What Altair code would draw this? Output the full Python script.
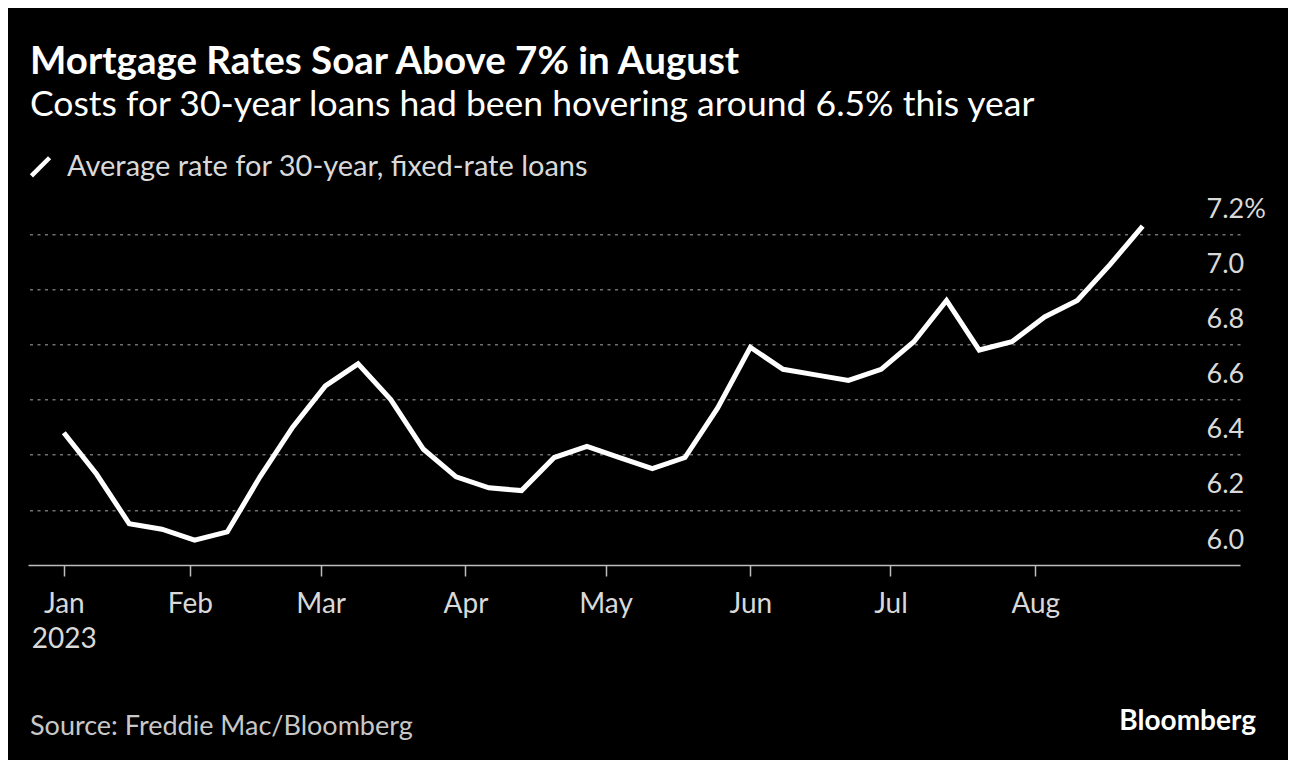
import altair as alt
import pandas as pd

# ---- data (Freddie Mac weekly average 30-year fixed rate, 2023) ----
dates = [
    "2023-01-05", "2023-01-12", "2023-01-19", "2023-01-26",
    "2023-02-02", "2023-02-09", "2023-02-16", "2023-02-23",
    "2023-03-02", "2023-03-09", "2023-03-16", "2023-03-23", "2023-03-30",
    "2023-04-06", "2023-04-13", "2023-04-20", "2023-04-27",
    "2023-05-04", "2023-05-11", "2023-05-18", "2023-05-25",
    "2023-06-01", "2023-06-08", "2023-06-15", "2023-06-22", "2023-06-29",
    "2023-07-06", "2023-07-13", "2023-07-20", "2023-07-27",
    "2023-08-03", "2023-08-10", "2023-08-17", "2023-08-24",
]
rates = [
    6.48, 6.33, 6.15, 6.13,
    6.09, 6.12, 6.32, 6.50,
    6.65, 6.73, 6.60, 6.42, 6.32,
    6.28, 6.27, 6.39, 6.43,
    6.39, 6.35, 6.39, 6.57,
    6.79, 6.71, 6.69, 6.67, 6.71,
    6.81, 6.96, 6.78, 6.81,
    6.90, 6.96, 7.09, 7.23,
]
series_name = "Average rate for 30-year, fixed-rate loans"
x_tick_dates = ["2023-01-05", "2023-02-01", "2023-03-01", "2023-04-01",
                "2023-05-01", "2023-06-01", "2023-07-01", "2023-08-01"]
y_ticks = [6.0, 6.2, 6.4, 6.6, 6.8, 7.0, 7.2]
x_domain = [("2022-12-28", 8), ("2023-09-13", 20)]

title_text = "Mortgage Rates Soar Above 7% in August"
subtitle_text = "Costs for 30-year loans had been hovering around 6.5% this year"
source_text = ["Source: Freddie Mac/Bloomberg"]
brand_text = ["Bloomberg"]

FONT = "Lato"

df = pd.DataFrame({"date": dates, "rate": rates, "series": series_name})


def dt(s, h=0):
    y, m, d = s.split("-")
    return alt.DateTime(year=int(y), month=int(m), date=int(d), hours=h, utc=True)


x_enc = alt.X(
    "date:T",
    scale=alt.Scale(type="utc", domain=[dt(s, h) for s, h in x_domain]),
    axis=alt.Axis(
        values=[dt(s) for s in x_tick_dates],
        labelExpr="utcFormat(datum.value, '%b') == 'Jan' ? ['Jan', '2023'] : utcFormat(datum.value, '%b')",
        title=None,
        grid=False,
        domainColor="#bdbdbd",
        domainWidth=1.5,
        tickColor="#bdbdbd",
        tickWidth=1.5,
        tickSize=11,
        labelFont=FONT,
        labelFontSize=28,
        labelColor="#d9d9d9",
        labelBaseline="alphabetic",
        labelPadding=36.7,
        labelLineHeight=34.7,
        labelFlush=False,
        labelOverlap=False,
        labelBound=False,
    ),
)

y_enc = alt.Y(
    "rate:Q",
    scale=alt.Scale(domain=[6.0, 7.2], nice=False, zero=False),
    axis=alt.Axis(
        orient="right",
        values=y_ticks,
        labelExpr="datum.value >= 7.19 ? '7.2%' : format(datum.value, '.1f')",
        title=None,
        ticks=False,
        tickSize=0,
        domain=False,
        grid=True,
        gridColor="#707070",
        gridDash=[3, 4.5],
        gridWidth=1.5,
        gridOpacity={"condition": {"test": "datum.value < 6.05", "value": 0}, "value": 1},
        labelFont=FONT,
        labelFontSize=27,
        labelColor="#d9d9d9",
        labelAlign="left",
        labelBaseline="alphabetic",
        labelPadding=-34,
        labelOffset=-17,
        labelOverlap=False,
        labelFlush=False,
        labelBound=False,
    ),
)

line = alt.Chart(df).mark_line(
    strokeWidth=5, strokeJoin="miter", strokeCap="butt"
).encode(
    x=x_enc,
    y=y_enc,
    color=alt.Color(
        "series:N",
        scale=alt.Scale(domain=[series_name], range=["#ffffff"]),
        legend=alt.Legend(
            orient="none",
            legendX=-2,
            legendY=-82,
            title=None,
            padding=0,
            symbolType="M-1,1L1,-1",
            symbolSize=330,
            symbolStrokeWidth=4.5,
            labelFont=FONT,
            labelFontSize=29,
            labelColor="#d9d9d9",
            labelOffset=12,
            labelLimit=900,
        ),
    ),
)

source = alt.Chart(pd.DataFrame({"t": source_text})).mark_text(
    font=FONT, fontSize=27, color="#c8c8c8", align="left", baseline="alphabetic"
).encode(text="t:N", x=alt.value(2), y=alt.value(500.7))

brand = alt.Chart(pd.DataFrame({"t": brand_text})).mark_text(
    font=FONT, fontSize=28, fontWeight="bold", color="#ffffff", align="right",
    baseline="alphabetic"
).encode(text="t:N", x=alt.value(1228), y=alt.value(495.7))

chart = alt.layer(line, source, brand).properties(
    width=1212,
    height=330.7,
    padding={"left": 20, "top": 226.3, "right": 48, "bottom": 195},
    autosize=alt.AutoSizeParams(type="none"),
    title=alt.Title(
        text=title_text,
        subtitle=subtitle_text,
        anchor="start",
        frame="group",
        font=FONT,
        fontSize=38.5,
        fontWeight="bold",
        color="#ffffff",
        subtitleFont=FONT,
        subtitleFontSize=35.5,
        subtitleColor="#ffffff",
        subtitlePadding=5,
        offset=28,
        dx=2,
    ),
).configure(
    background="#000000",
).configure_view(
    stroke=None,
)

chart.save("out.html", embed_options={"renderer": "svg", "actions": False})
